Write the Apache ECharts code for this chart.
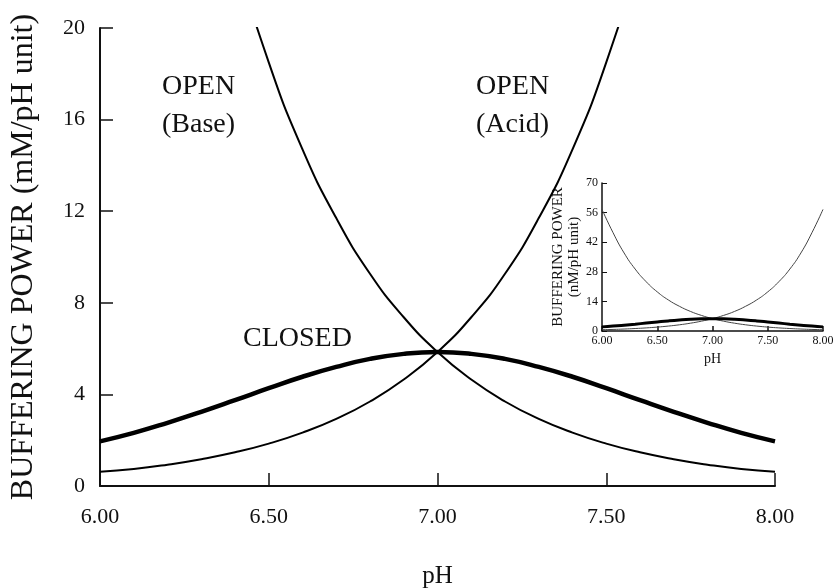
<!DOCTYPE html>
<html>
<head>
<meta charset="utf-8">
<script src="https://cdn.jsdelivr.net/npm/echarts@6/dist/echarts.min.js"></script>
<style>
  html, body { margin: 0; padding: 0; background: #fff; }
  #chart { width: 833px; height: 588px; }
</style>
</head>
<body>
<div id="chart"></div>
<script>
// pH values along the x axis, and buffering power
var phValues = [6.0, 6.1, 6.2, 6.3, 6.4, 6.5, 6.6, 6.7, 6.8, 6.9, 7.0, 7.1, 7.2, 7.3, 7.4, 7.5, 7.6, 7.7, 7.8, 7.9, 8.0];
var openAcid = [0.62, 0.74, 0.93, 1.17, 1.47, 1.85, 2.33, 2.93, 3.69, 4.65, 5.85, 7.37, 9.27, 11.7, 14.7, 18.5, 23.3, 29.3, 36.9, 46.5, 57.5];
var openBase = [57.5, 46.5, 36.9, 29.3, 23.3, 18.5, 14.7, 11.7, 9.27, 7.37, 5.85, 4.65, 3.69, 2.93, 2.33, 1.85, 1.47, 1.17, 0.93, 0.74, 0.62];
var closedSystem = [1.95, 2.32, 2.76, 3.24, 3.75, 4.27, 4.77, 5.20, 5.55, 5.77, 5.85, 5.77, 5.55, 5.20, 4.77, 4.27, 3.75, 3.24, 2.76, 2.32, 1.95];

var mainYTicks = { min: 0, max: 20, interval: 4 };
var insetYTicks = { min: 0, max: 70, interval: 14 };

function pairs(ys) {
  return phValues.map(function(x, i) { return [x, ys[i]]; });
}

var serif = '"Liberation Serif", "DejaVu Serif", serif';

function xAxisFor(grid, fontSize, margin, tickLen, nameSize, nameGap) {
  return {
    type: 'value', gridIndex: grid, min: 6, max: 8, interval: 0.5,
    name: 'pH', nameLocation: 'middle', nameGap: nameGap,
    nameTextStyle: { color: '#111', fontFamily: serif, fontSize: nameSize },
    axisLine: { lineStyle: { color: '#111', width: grid === 0 ? 2 : 1.5 } },
    axisTick: { inside: true, length: tickLen, lineStyle: { color: '#111', width: 1.5 } },
    axisLabel: { color: '#111', fontFamily: serif, fontSize: fontSize, margin: margin,
      formatter: function(v) { return v.toFixed(2); } },
    splitLine: { show: false }
  };
}

var chart = echarts.init(document.getElementById('chart'));
chart.setOption({
  backgroundColor: '#fff',
  animation: false,
  grid: [
    { left: 100, right: 58, top: 28, bottom: 102, outerBoundsMode: 'none', containLabel: false },
    { left: 602, right: 10, top: 183, bottom: 257, outerBoundsMode: 'none', containLabel: false }
  ],
  xAxis: [
    xAxisFor(0, 22, 20, 13, 25, 78),
    xAxisFor(1, 12, 4, 5, 14, 21)
  ],
  yAxis: [
    {
      type: 'value', gridIndex: 0, min: mainYTicks.min, max: mainYTicks.max, interval: mainYTicks.interval,
      name: 'BUFFERING POWER (mM/pH unit)', nameLocation: 'middle', nameGap: 60,
      nameTextStyle: { color: '#111', fontFamily: serif, fontSize: 32 },
      axisLine: { lineStyle: { color: '#111', width: 2 } },
      axisTick: { inside: true, length: 13, lineStyle: { color: '#111', width: 1.5 } },
      axisLabel: { color: '#111', fontFamily: serif, fontSize: 22, margin: 15 },
      splitLine: { show: false }
    },
    {
      type: 'value', gridIndex: 1, min: insetYTicks.min, max: insetYTicks.max, interval: insetYTicks.interval,
      name: 'BUFFERING POWER\n(nM/pH unit)', nameLocation: 'middle', nameGap: 17,
      nameTextStyle: { color: '#111', fontFamily: serif, fontSize: 15, lineHeight: 16 },
      axisLine: { lineStyle: { color: '#111', width: 1.5 } },
      axisTick: { inside: true, length: 5, lineStyle: { color: '#111', width: 1 } },
      axisLabel: { color: '#111', fontFamily: serif, fontSize: 12, margin: 4 },
      splitLine: { show: false }
    }
  ],
  series: [
    { type: 'line', xAxisIndex: 0, yAxisIndex: 0, data: pairs(openBase), smooth: true, symbol: 'none', clip: true, lineStyle: { color: '#000', width: 2 } },
    { type: 'line', xAxisIndex: 0, yAxisIndex: 0, data: pairs(openAcid), smooth: true, symbol: 'none', clip: true, lineStyle: { color: '#000', width: 2 } },
    { type: 'line', xAxisIndex: 0, yAxisIndex: 0, data: pairs(closedSystem), smooth: true, symbol: 'none', clip: true, lineStyle: { color: '#000', width: 4.5 } },
    { type: 'line', xAxisIndex: 1, yAxisIndex: 1, data: pairs(openBase), smooth: true, symbol: 'none', lineStyle: { color: '#444', width: 1 } },
    { type: 'line', xAxisIndex: 1, yAxisIndex: 1, data: pairs(openAcid), smooth: true, symbol: 'none', lineStyle: { color: '#444', width: 1 } },
    { type: 'line', xAxisIndex: 1, yAxisIndex: 1, data: pairs(closedSystem), smooth: true, symbol: 'none', lineStyle: { color: '#000', width: 3 } }
  ],
  graphic: [
    { type: 'text', left: 162, top: 68, style: { text: 'OPEN\n(Base)', font: '28px ' + serif, fill: '#111', align: 'center', lineHeight: 38 } },
    { type: 'text', left: 476, top: 68, style: { text: 'OPEN\n(Acid)', font: '28px ' + serif, fill: '#111', align: 'center', lineHeight: 38 } },
    { type: 'text', left: 243, top: 325, style: { text: 'CLOSED', font: '28px ' + serif, fill: '#111' } }
  ]
});
</script>
</body>
</html>
